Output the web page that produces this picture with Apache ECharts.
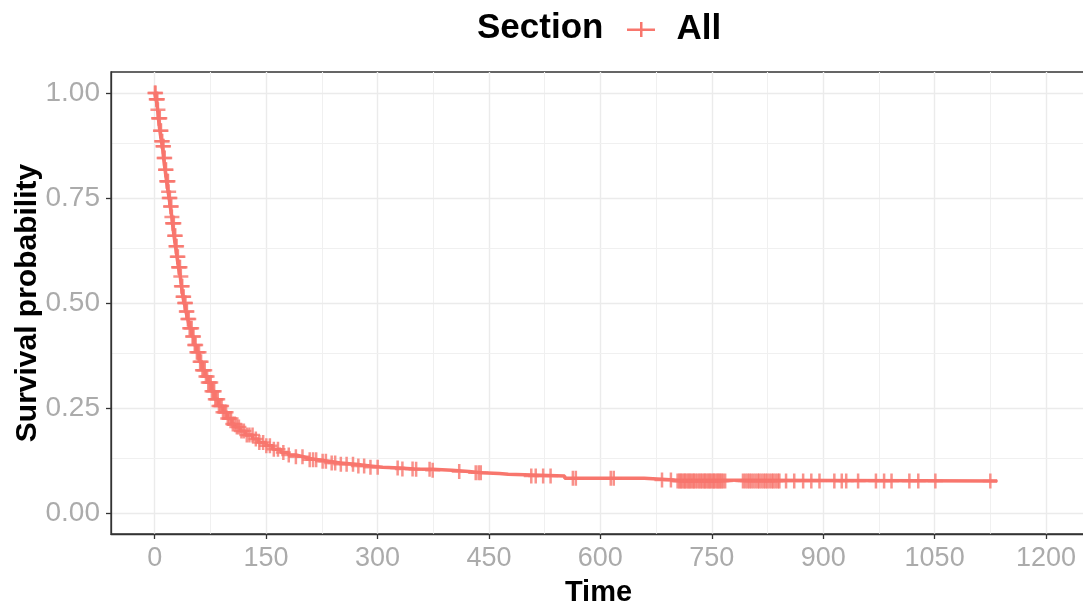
<!DOCTYPE html>
<html>
<head>
<meta charset="utf-8">
<script src="https://cdn.jsdelivr.net/npm/echarts@6/dist/echarts.min.js"></script>
<style>
html,body{margin:0;padding:0;background:#fff;}
#main{width:1083px;height:604px;}
</style>
</head>
<body>
<div id="main"></div>
<script>
// Kaplan-Meier step curve: event times and survival after each event
const eventTimes = [0, 2, 4, 5, 7, 9, 10.5, 12, 14, 16, 18, 19.5, 21, 23, 24, 26, 28, 30, 32, 34.5,
  36, 38, 40, 42, 44.5, 47, 50, 53, 56, 60, 64, 68, 72, 76, 81, 86, 92, 98, 104, 108,
  115, 122, 132, 140, 150, 159, 170, 180, 190, 200, 208, 220, 235, 250, 271, 290, 307, 330, 350, 374,
  400, 423, 440, 464, 476, 552, 659, 700, 1134];
const survival = [1.0, 0.985, 0.96, 0.94, 0.91, 0.885, 0.873, 0.845, 0.817, 0.79, 0.765, 0.75, 0.73, 0.705, 0.69, 0.66, 0.635, 0.61, 0.585, 0.563,
  0.54, 0.515, 0.5, 0.48, 0.462, 0.44, 0.42, 0.40, 0.383, 0.36, 0.34, 0.325, 0.311, 0.29, 0.271, 0.255, 0.24, 0.225, 0.212, 0.205,
  0.195, 0.186, 0.176, 0.168, 0.16, 0.152, 0.144, 0.138, 0.134, 0.13, 0.127, 0.123, 0.119, 0.116, 0.112, 0.109, 0.107, 0.105, 0.104, 0.102,
  0.099, 0.096, 0.094, 0.092, 0.088, 0.083, 0.0786, 0.076, 0.076];
// Censoring times (marked with +)
const censorTimes = [0.3, 1.2, 2.1, 2.8, 3.6, 4.4, 5.3, 6.1, 6.9, 7.8, 8.5, 9.4, 10.2, 11.1, 11.9, 12.7, 13.5, 14.6, 15.3, 16.2,
  17.1, 17.9, 18.8, 19.6, 20.5, 21.3, 22.4, 23.2, 24.1, 25.0, 25.8, 26.9, 27.7, 28.6, 29.5, 30.4, 31.3, 32.2, 33.0, 34.1,
  35.2, 36.0, 37.1, 38.2, 39.0, 40.3, 41.5, 42.6, 43.4, 44.7, 45.9, 47.1, 48.4, 49.8, 51.0, 52.3, 53.9, 55.2, 56.8, 58.1,
  59.7, 61.2, 62.5, 64.3, 65.8, 67.4, 69.0, 70.6, 72.1, 73.9, 75.5, 77.2, 78.8, 80.1, 81.6, 83.0, 84.9, 86.5, 88.2, 90.1,
  92.0, 94.3, 96.1, 98.4, 100.5, 102.8, 105.2, 107.9, 110.6, 113.4, 116.8, 120.1, 124.0, 127.5, 131.8, 136.2, 140.9, 146.0, 150.3, 155.1,
  160.4, 166.0, 173.2, 180.5, 190.1, 199.0, 208.7, 213.2, 217.4, 226.1, 230.5, 238.3, 243.0, 250.6, 258.4, 267.0, 274.2, 282.0, 290.5, 300.2,
  327.1, 333.5, 347.2, 352.0, 370.1, 374.3, 410.0, 432.2, 436.1, 439.0, 507, 513, 523, 533, 563, 567, 614, 618, 683, 695,
  704, 706.5, 708, 710, 712.5, 714, 716, 718.5, 720, 722, 724.5, 726, 728, 730.5, 733, 735, 737, 739.5, 741, 743,
  745.5, 747, 749, 751.5, 753, 755, 757.5, 759, 761, 763, 765, 768,
  792, 795, 798, 800.5, 803, 806, 809, 812, 814, 817, 820, 822.5, 825, 828, 831, 833, 836, 839, 841,
  850, 861, 873, 884, 895, 915, 925, 931, 947, 971, 982, 992, 1016, 1028, 1051, 1125];
// Axis ticks and grid
const xTicks = [0, 150, 300, 450, 600, 750, 900, 1050, 1200];
const xMinorGrid = [75, 225, 375, 525, 675, 825, 975, 1125];
const yTicks = [0, 0.25, 0.5, 0.75, 1.0];
const yMinorGrid = [0.125, 0.375, 0.625, 0.875];

function survAt(t) {
  let s = survival[0];
  for (let i = 0; i < eventTimes.length; i++) {
    if (eventTimes[i] <= t) s = survival[i]; else break;
  }
  return s;
}
const curveData = eventTimes.map((t, i) => [t, survival[i]]);
const censorData = censorTimes.map(t => [t, survAt(t)]);

const FONT = "'Liberation Sans', Arial, sans-serif";
const RED = '#F8766D';
const PLUS = 'path://M6.25,0h2.5v15h-2.5z M0,6.25h15v2.5h-15z';

const gridLines = [];
xTicks.forEach(v => gridLines.push({xAxis: v, lineStyle: {color: '#EBEBEB', width: 1.4, type: 'solid'}}));
xMinorGrid.forEach(v => gridLines.push({xAxis: v, lineStyle: {color: '#F0F0F0', width: 1.1, type: 'solid'}}));
yTicks.forEach(v => gridLines.push({yAxis: v, lineStyle: {color: '#EBEBEB', width: 1.4, type: 'solid'}}));
yMinorGrid.forEach(v => gridLines.push({yAxis: v, lineStyle: {color: '#F0F0F0', width: 1.1, type: 'solid'}}));

const chart = echarts.init(document.getElementById('main'), null, {renderer: 'canvas'});
chart.setOption({
  animation: false,
  backgroundColor: '#fff',
  textStyle: {fontFamily: FONT},
  title: {
    text: 'Section', left: 477, top: 11, padding: 0,
    textStyle: {fontFamily: FONT, fontSize: 35, fontWeight: 'bold', color: '#000'}
  },
  legend: {
    left: 627, top: 12, padding: 0,
    itemWidth: 29, itemHeight: 15,
    data: [{name: 'All', icon: 'path://M0,6.5h28v2.5h-28z M13,0h2.5v15h-2.5z'}],
    textStyle: {fontFamily: FONT, fontSize: 35, fontWeight: 'bold', color: '#000', padding: [0, 0, 0, 16]}
  },
  grid: {
    left: 111, top: 72, right: -3, bottom: 70,
    outerBoundsMode: 'none', containLabel: false,
    show: true, borderColor: '#333', borderWidth: 1.3, backgroundColor: '#fff'
  },
  xAxis: {
    type: 'value', min: -58.8, max: 1253.8, z: 10,
    name: 'Time', nameLocation: 'middle', nameGap: 44, nameMoveOverlap: false,
    nameTextStyle: {fontFamily: FONT, fontSize: 29, fontWeight: 'bold', color: '#000'},
    axisLine: {show: true, onZero: false, lineStyle: {color: '#333', width: 1.3}},
    axisTick: {show: true, length: 5, customValues: xTicks, lineStyle: {color: '#333', width: 1.3}},
    axisLabel: {customValues: xTicks, fontFamily: FONT, fontSize: 27, color: '#ABABAB', margin: 11,
      formatter: v => String(v)},
    splitLine: {show: false}
  },
  yAxis: {
    type: 'value', min: -0.05, max: 1.05, z: 10,
    name: 'Survival probability', nameLocation: 'middle', nameGap: 68, nameMoveOverlap: false,
    nameTextStyle: {fontFamily: FONT, fontSize: 30, fontWeight: 'bold', color: '#000'},
    axisLine: {show: true, onZero: false, lineStyle: {color: '#333', width: 1.3}},
    axisTick: {show: true, length: 5, customValues: yTicks, lineStyle: {color: '#333', width: 1.3}},
    axisLabel: {customValues: yTicks, fontFamily: FONT, fontSize: 28, color: '#ABABAB', margin: 11,
      formatter: v => v.toFixed(2)},
    splitLine: {show: false}
  },
  series: [
    {
      name: 'All', type: 'line', step: 'end', data: curveData, z: 3,
      showSymbol: false, symbol: 'none',
      lineStyle: {color: RED, width: 3.5}, itemStyle: {color: RED},
      markLine: {silent: true, symbol: 'none', z: 1, label: {show: false}, data: gridLines}
    },
    {
      name: 'All', type: 'scatter', data: censorData, z: 4,
      symbol: PLUS, symbolSize: 15, itemStyle: {color: RED}
    }
  ]
});
</script>
</body>
</html>
